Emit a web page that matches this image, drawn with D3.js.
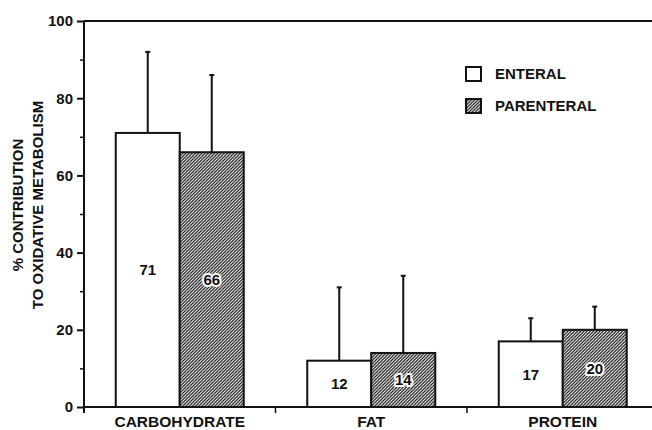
<!DOCTYPE html>
<html>
<head>
<meta charset="utf-8">
<script src="https://cdn.jsdelivr.net/npm/d3@7"></script>
<style>
  html, body { margin: 0; padding: 0; background: #fff; }
  svg { display: block; }
  text { font-family: "Liberation Sans", Arial, Helvetica, sans-serif; font-weight: bold; fill: #111; }
</style>
</head>
<body>
<svg id="chart" width="652" height="430"></svg>
<script>
// Substrate contribution to oxidative metabolism, enteral vs parenteral feeding
const categories = ["CARBOHYDRATE", "FAT", "PROTEIN"];
const series = ["ENTERAL", "PARENTERAL"];
const enteral = [71, 12, 17];
const parenteral = [66, 14, 20];
const enteralSD = [21, 19, 6];
const parenteralSD = [20, 20, 6];
const yTicks = [0, 20, 40, 60, 80, 100];
const yMinorTicks = [10, 30, 50, 70, 90];

const W = 652, H = 430;
const svg = d3.select("#chart");
const ink = "#111";

const y = d3.scaleLinear().domain([0, 100]).range([407, 21]);
const x0 = d3.scaleBand().domain(categories).range([84, 658.5]).padding(0);
const barW = 64;
const x1 = d3.scaleBand().domain(series).range([0, x0.bandwidth()])
  .paddingInner(0).paddingOuter((x0.bandwidth() / barW - 2) / 2);

// dense diagonal hatch fill
const defs = svg.append("defs");
const pat = defs.append("pattern")
  .attr("id", "hatch").attr("patternUnits", "userSpaceOnUse")
  .attr("width", 3.2).attr("height", 3.2);
pat.append("rect").attr("width", 3.2).attr("height", 3.2).attr("fill", "#fff");
pat.append("path")
  .attr("d", "M-0.8,0.8 L0.8,-0.8 M0,3.2 L3.2,0 M2.4,4 L4,2.4")
  .attr("stroke", ink).attr("stroke-width", 1.25);

const fills = { ENTERAL: "#fff", PARENTERAL: "url(#hatch)" };

const rows = categories.flatMap((c, i) => [
  { cat: c, s: "ENTERAL", v: enteral[i], sd: enteralSD[i] },
  { cat: c, s: "PARENTERAL", v: parenteral[i], sd: parenteralSD[i] }
]);

// error bars (drawn first so the bar outline sits on top)
const eb = svg.append("g");
rows.forEach(d => {
  const cx = x0(d.cat) + x1(d.s) + x1.bandwidth() / 2;
  eb.append("line").attr("x1", cx).attr("x2", cx)
    .attr("y1", y(d.v)).attr("y2", y(d.v + d.sd))
    .attr("stroke", ink).attr("stroke-width", 2);
  eb.append("line").attr("x1", cx - 2.5).attr("x2", cx + 2.5)
    .attr("y1", y(d.v + d.sd)).attr("y2", y(d.v + d.sd))
    .attr("stroke", ink).attr("stroke-width", 2);
});

// bars
svg.append("g").selectAll("rect").data(rows).join("rect")
  .attr("x", d => x0(d.cat) + x1(d.s))
  .attr("y", d => y(d.v))
  .attr("width", x1.bandwidth())
  .attr("height", d => y(0) - y(d.v))
  .attr("fill", d => fills[d.s])
  .attr("stroke", ink).attr("stroke-width", 2);

// value labels at mid-height of each bar
svg.append("g").selectAll("text").data(rows).join("text")
  .attr("x", d => x0(d.cat) + x1(d.s) + x1.bandwidth() / 2)
  .attr("y", d => (y(d.v) + y(0)) / 2)
  .attr("dy", "0.36em")
  .attr("text-anchor", "middle")
  .style("font-size", "15px")
  .attr("stroke", d => d.s === "PARENTERAL" ? "#fff" : "none")
  .attr("stroke-width", 4)
  .attr("paint-order", "stroke")
  .attr("stroke-linejoin", "round")
  .text(d => d.v);

// y axis with major and minor ticks
const yAxis = svg.append("g").attr("transform", "translate(84,0)")
  .call(d3.axisLeft(y).tickValues(yTicks).tickSize(7).tickPadding(4).tickFormat(d3.format("d")));
yAxis.select(".domain").remove();
yAxis.selectAll(".tick line").attr("stroke", ink).attr("stroke-width", 2);
yAxis.selectAll(".tick text").style("font-size", "15px").attr("fill", ink)
  .style("font-family", "'Liberation Sans', Arial, sans-serif").style("font-weight", "bold");
svg.append("g").attr("transform", "translate(84,0)")
  .call(d3.axisLeft(y).tickValues(yMinorTicks).tickSize(4).tickFormat(""))
  .call(g => g.select(".domain").remove())
  .selectAll(".tick line").attr("stroke", ink).attr("stroke-width", 1.5);

// frame: left axis, baseline and top rule
svg.append("line").attr("x1", 84).attr("x2", 84).attr("y1", y(100)).attr("y2", y(0) + 6)
  .attr("stroke", ink).attr("stroke-width", 2);
svg.append("line").attr("x1", 84).attr("x2", W).attr("y1", y(0)).attr("y2", y(0))
  .attr("stroke", ink).attr("stroke-width", 2);
svg.append("line").attr("x1", 84).attr("x2", W).attr("y1", y(100)).attr("y2", y(100))
  .attr("stroke", ink).attr("stroke-width", 2);

// group separator ticks below the baseline
svg.append("g").selectAll("line").data(categories.slice(1)).join("line")
  .attr("x1", d => x0(d)).attr("x2", d => x0(d))
  .attr("y1", y(0)).attr("y2", y(0) + 6)
  .attr("stroke", ink).attr("stroke-width", 1.5);

// category labels
svg.append("g").selectAll("text").data(categories).join("text")
  .attr("x", d => x0(d) + x0.bandwidth() / 2)
  .attr("y", 427)
  .attr("text-anchor", "middle")
  .style("font-size", "15.5px")
  .text(d => d);

// y-axis title, two rotated lines
const title = svg.append("text")
  .attr("transform", "translate(0,205) rotate(-90)")
  .attr("text-anchor", "middle")
  .style("font-size", "15px");
title.append("tspan").attr("x", 0).attr("y", 23).text("% CONTRIBUTION");
title.append("tspan").attr("x", 0).attr("y", 43).text("TO OXIDATIVE METABOLISM");

// legend
const legend = svg.append("g").attr("transform", "translate(466,67)");
series.forEach((s, i) => {
  const g = legend.append("g").attr("transform", `translate(0,${i * 32})`);
  g.append("rect").attr("width", 15).attr("height", 14)
    .attr("fill", fills[s]).attr("stroke", ink).attr("stroke-width", 2);
  g.append("text").attr("x", 29).attr("y", 7).attr("dy", "0.36em")
    .style("font-size", "15px").text(s);
});
</script>
</body>
</html>
